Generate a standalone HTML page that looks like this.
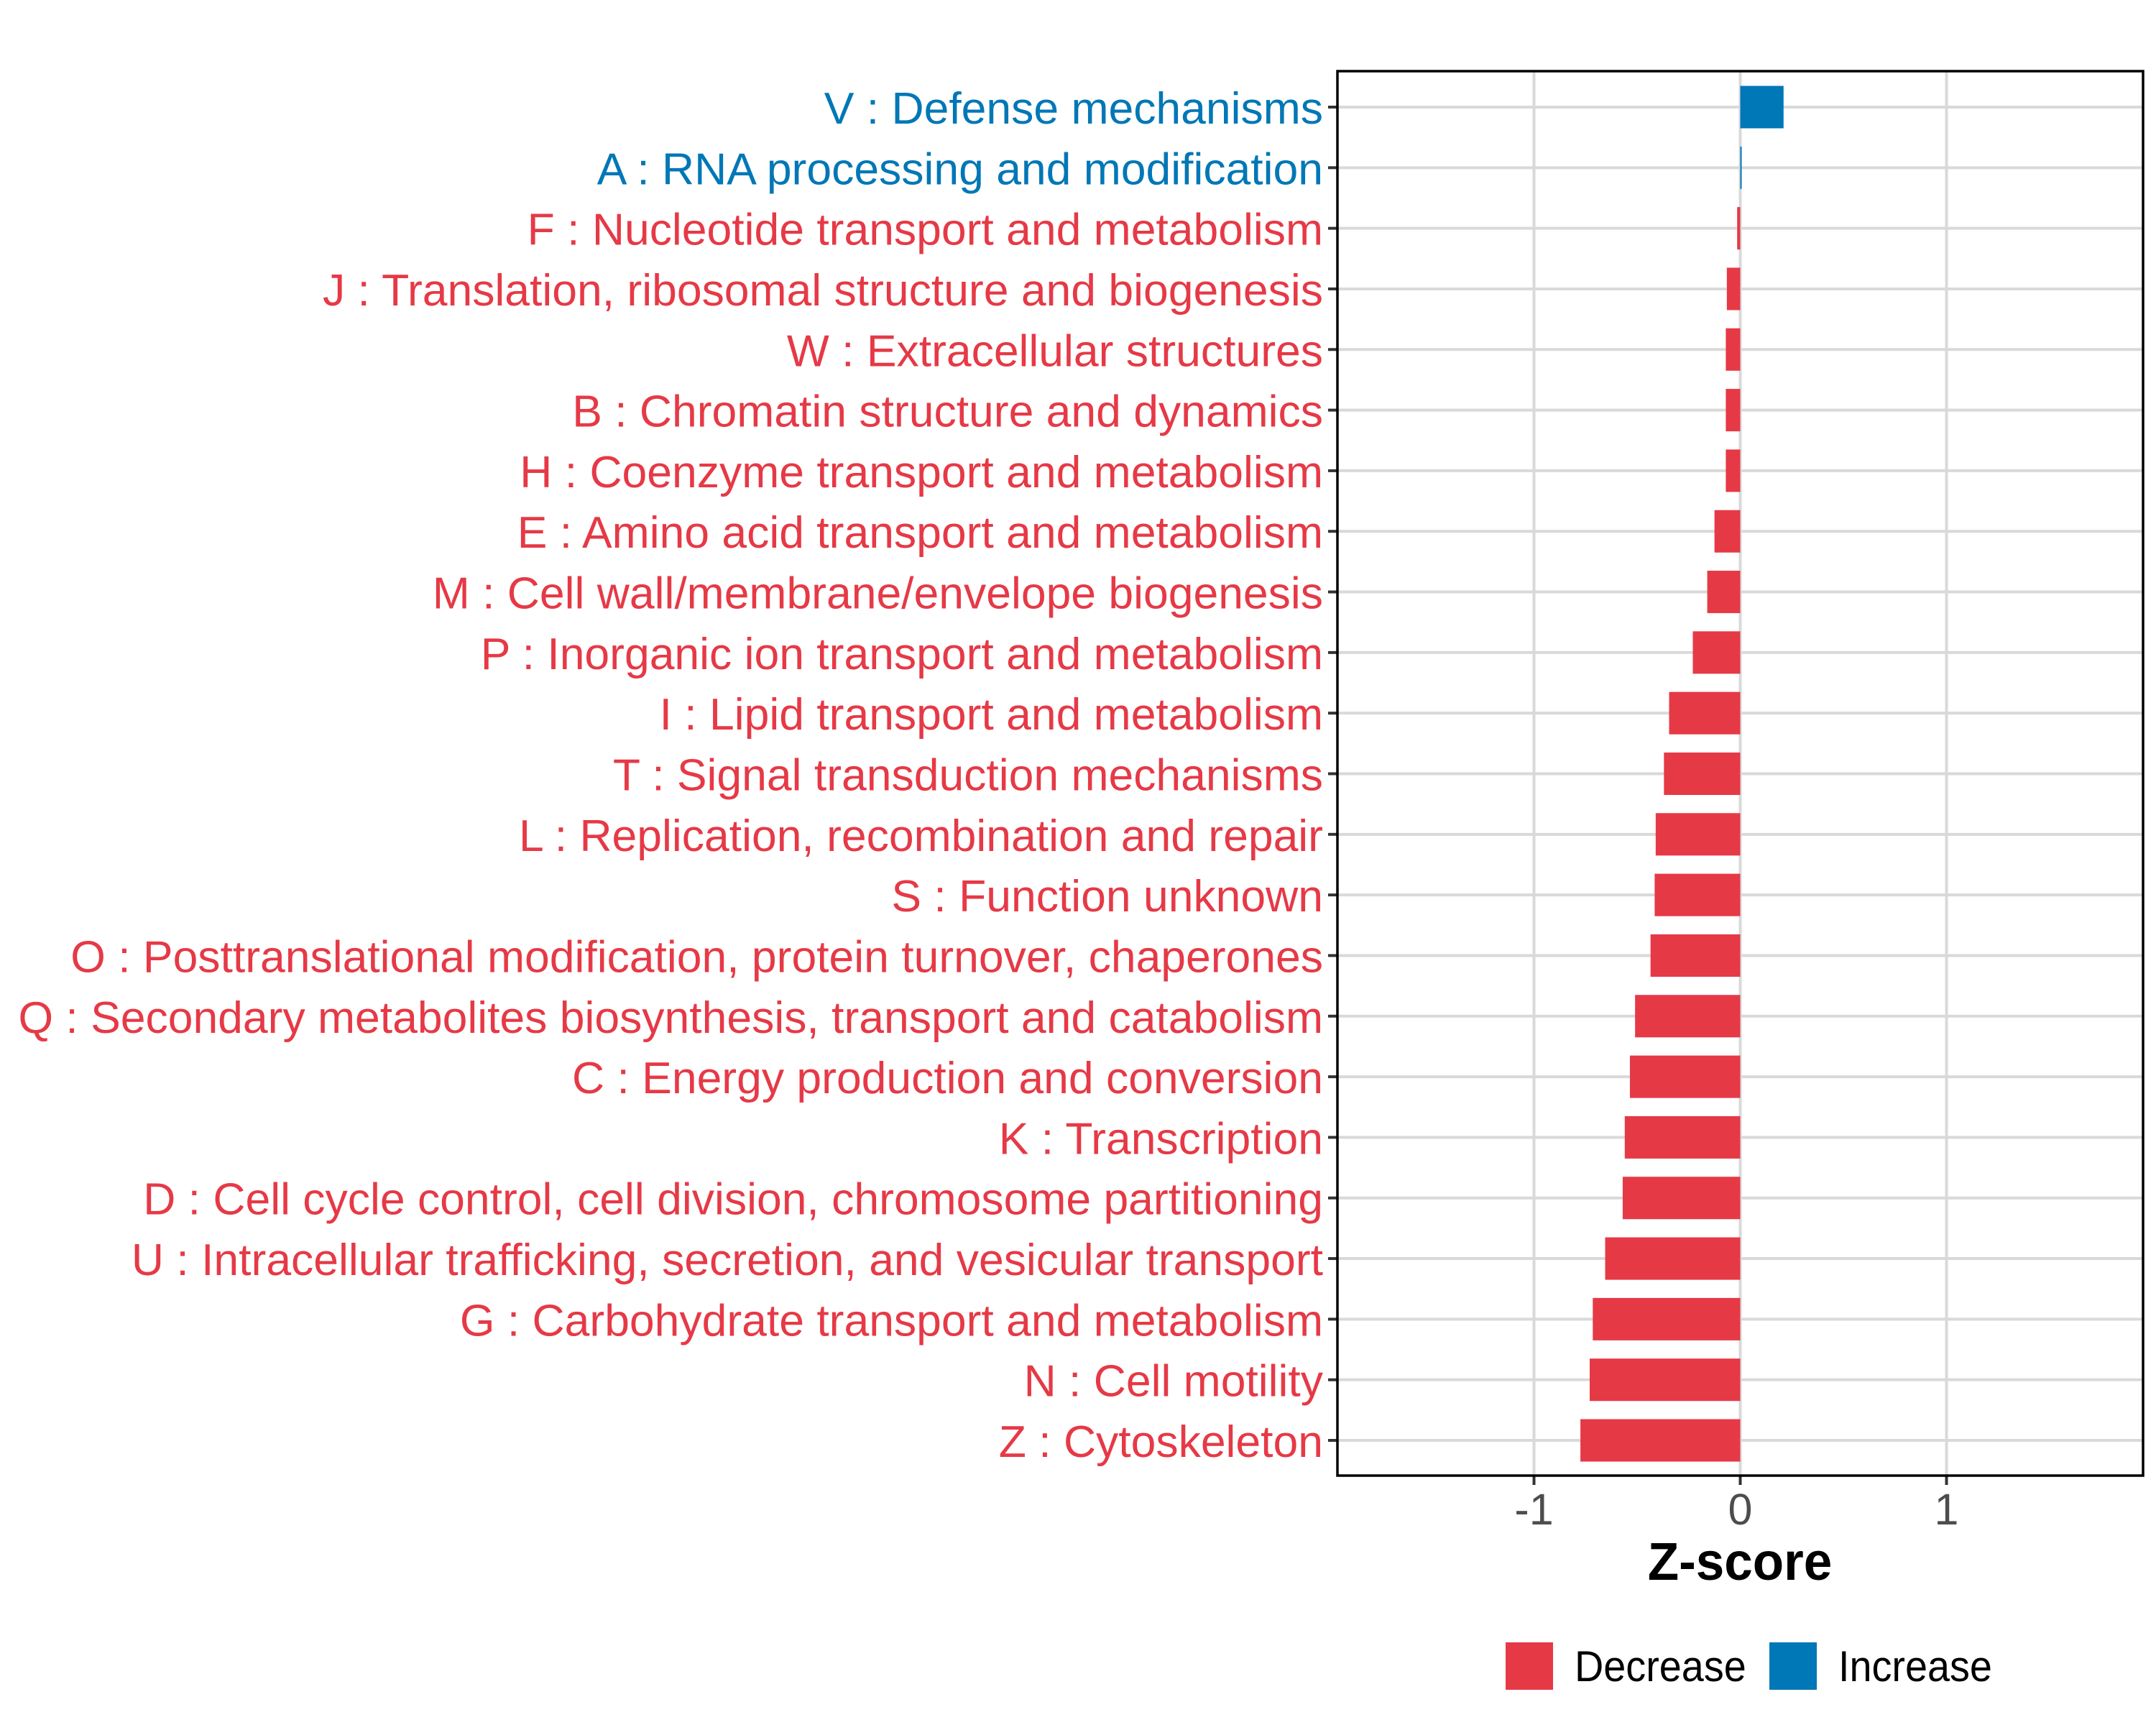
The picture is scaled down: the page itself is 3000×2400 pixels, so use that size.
<!DOCTYPE html>
<html><head><meta charset="utf-8"><style>
html,body{margin:0;padding:0;background:#fff;}
svg{display:block;font-family:"Liberation Sans",Arial,sans-serif;}
</style></head><body>
<svg id="chart" width="3000" height="2400" viewBox="0 0 3000 2400" xmlns="http://www.w3.org/2000/svg">
<rect x="0" y="0" width="3000" height="2400" fill="#fff"/>
<g id="grid"></g><g id="bars"></g><g id="labels"></g><g id="axis"></g>
<rect x="1861" y="99" width="1121" height="1954" fill="none" stroke="#000" stroke-width="3.5"/>
<text x="2421" y="2198" text-anchor="middle" font-size="74" font-weight="bold" fill="#000" transform="translate(2421,0) scale(0.96,1) translate(-2421,0)">Z-score</text>
<g>
<rect x="2095" y="2285" width="66" height="66" fill="#E63946"/>
<text x="2191" y="2339" font-size="60" fill="#000" transform="translate(2191,0) scale(0.93,1) translate(-2191,0)">Decrease</text>
<rect x="2462" y="2285" width="66" height="66" fill="#0077B6"/>
<text x="2558" y="2339" font-size="60" fill="#000" transform="translate(2558,0) scale(0.93,1) translate(-2558,0)">Increase</text>
</g>
</svg>
<script>
const categories = ["V : Defense mechanisms","A : RNA processing and modification","F : Nucleotide transport and metabolism","J : Translation, ribosomal structure and biogenesis","W : Extracellular structures","B : Chromatin structure and dynamics","H : Coenzyme transport and metabolism","E : Amino acid transport and metabolism","M : Cell wall/membrane/envelope biogenesis","P : Inorganic ion transport and metabolism","I : Lipid transport and metabolism","T : Signal transduction mechanisms","L : Replication, recombination and repair","S : Function unknown","O : Posttranslational modification, protein turnover, chaperones","Q : Secondary metabolites biosynthesis, transport and catabolism","C : Energy production and conversion","K : Transcription","D : Cell cycle control, cell division, chromosome partitioning","U : Intracellular trafficking, secretion, and vesicular transport","G : Carbohydrate transport and metabolism","N : Cell motility","Z : Cytoskeleton"];
const zscores = [0.21,0.006,-0.015,-0.065,-0.07,-0.07,-0.07,-0.125,-0.16,-0.23,-0.345,-0.37,-0.41,-0.415,-0.435,-0.51,-0.535,-0.56,-0.57,-0.655,-0.715,-0.73,-0.775];
const xTicks = [-1,0,1];
const xTickLabels = ["-1","0","1"];

const NS="http://www.w3.org/2000/svg";
const PL=1861,PR=2982,PT=99,PB=2053,XMIN=-1.953,XMAX=1.953;
const ROW0=149,ROWN=2004,LX=1841;
function xs(v){return PL+(v-XMIN)/(XMAX-XMIN)*(PR-PL);}
function ys(i){return ROW0+i*(ROWN-ROW0)/(categories.length-1);}
const step=(ROWN-ROW0)/(categories.length-1), bh=step*0.7;
function mk(tag,attrs,parent){const e=document.createElementNS(NS,tag);for(const k in attrs)e.setAttribute(k,attrs[k]);parent.appendChild(e);return e;}
const grid=document.getElementById('grid'),bars=document.getElementById('bars'),labels=document.getElementById('labels'),axis=document.getElementById('axis');
xTicks.forEach((t,i)=>{
  const g=mk('line',{x1:xs(t),x2:xs(t),y1:PT,y2:PB,stroke:'#d9d9d9','stroke-width':4},grid);
  
  
  const tk=mk('line',{x1:xs(t),x2:xs(t),y1:PB,y2:PB+13,stroke:'#333','stroke-width':4},axis);
  
  
  const tl=mk('text',{x:xs(t),y:2121,'text-anchor':'middle','font-size':61,fill:'#4d4d4d'},axis);
  tl.textContent=xTickLabels[i];
  
  
});
const texts=[];
categories.forEach((c,i)=>{
  const y=ys(i),v=zscores[i],col=v>=0?'#0077B6':'#E63946';
  const g=mk('line',{x1:PL,x2:PR,y1:y,y2:y,stroke:'#d9d9d9','stroke-width':4},grid);
  
  
  const x0=xs(Math.min(0,v)),x1=xs(Math.max(0,v));
  const b=mk('rect',{x:x0,y:y-bh/2,width:Math.max(x1-x0,2),height:bh,fill:col},bars);
  
  
  const tk=mk('line',{x1:PL-13,x2:PL,y1:y,y2:y,stroke:'#333','stroke-width':4},axis);
  
  
  const t=mk('text',{x:LX,y:y+23,'text-anchor':'end','font-size':62,fill:col},labels);
  t.textContent=c;
  
  
  texts.push(t);
});
let maxW=0;texts.forEach(t=>{maxW=Math.max(maxW,t.getComputedTextLength());});
const s=maxW>0?1816/maxW:1;
labels.setAttribute('transform','translate('+LX+',0) scale('+s+',1) translate(-'+LX+',0)');
</script>
</body></html>
